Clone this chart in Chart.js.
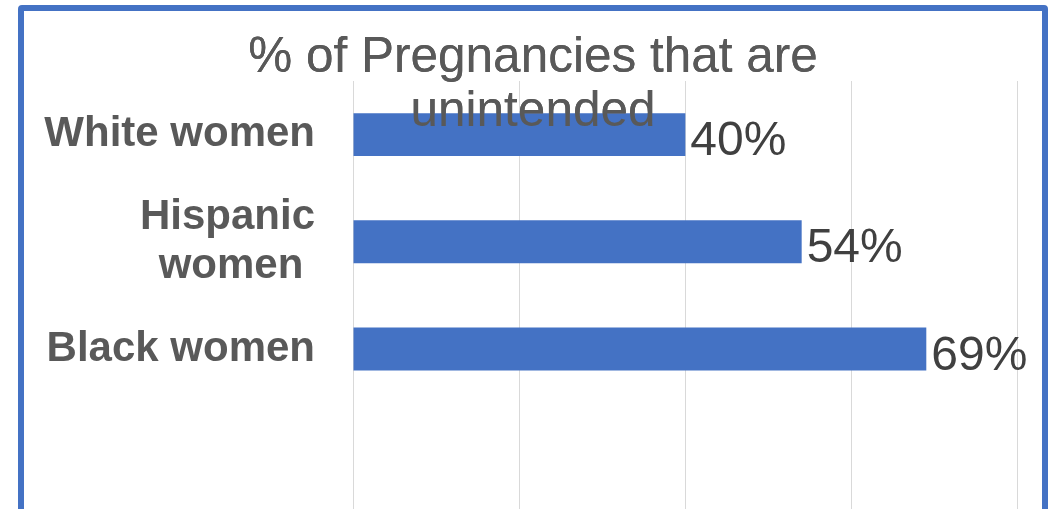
<!DOCTYPE html>
<html>
<head>
<meta charset="utf-8">
<script src="https://cdn.jsdelivr.net/npm/chart.js@4"></script>
<style>
  html, body { margin: 0; padding: 0; background: #fff; overflow: hidden; }
  #wrap { position: relative; width: 1053px; height: 509px; overflow: hidden; }
  #chart { position: absolute; left: 0; top: 0; }
  #frame {
    position: absolute; left: 18px; top: 5px; width: 1030px; height: 510px;
    box-sizing: border-box; border: 6px solid #4472C4; border-radius: 4px;
    pointer-events: none;
  }
</style>
</head>
<body>
<div id="wrap">
  <canvas id="chart" width="1066" height="572"></canvas>
  <div id="frame"></div>
</div>
<script>
// Chart data
const titleLines = ['% of Pregnancies that are', 'unintended'];
const categories = ['White women', ['Hispanic', 'women '], 'Black women', ''];
const values = [40, 54, 69, null];
const xTicks = [0, 20, 40, 60, 80];

const FONT = "'Liberation Sans', Arial, sans-serif";

// value labels next to the bars, then the title again so it sits on top of the bars
const barLabels = {
    id: 'barLabels',
    afterDatasetsDraw(chart) {
        const ctx = chart.ctx;
        const meta = chart.getDatasetMeta(0);
        ctx.save();
        ctx.font = '48px ' + FONT;
        ctx.fillStyle = '#404040';
        ctx.textAlign = 'left';
        ctx.textBaseline = 'alphabetic';
        meta.data.forEach((bar, i) => {
            const v = values[i];
            if (v === null || v === undefined) return;
            ctx.fillText(v + '%', bar.x + 5, bar.y + 20.5);
        });
        ctx.restore();
        if (chart.titleBlock) chart.titleBlock.draw(chart.chartArea);
    }
};

const ctx = document.getElementById('chart').getContext('2d');
new Chart(ctx, {
    type: 'bar',
    data: {
        labels: categories,
        datasets: [{
            data: values,
            backgroundColor: '#4472C4',
            borderWidth: 0,
            categoryPercentage: 0.4,
            barPercentage: 1
        }]
    },
    options: {
        indexAxis: 'y',
        responsive: false,
        animation: false,
        layout: { padding: 0 },
        plugins: {
            legend: { display: false },
            tooltip: { enabled: false },
            title: {
                display: true,
                text: titleLines,
                color: '#595959',
                font: { family: FONT, size: 49.5, weight: 'normal', lineHeight: 1.111 },
                padding: { top: 30.35, bottom: -59.35 }
            }
        },
        scales: {
            x: {
                min: xTicks[0],
                max: xTicks[xTicks.length - 1],
                afterBuildTicks: s => { s.ticks = xTicks.map(v => ({ value: v })); },
                ticks: { display: false },
                grid: { color: '#D9D9D9', lineWidth: 1, drawTicks: false },
                border: { display: false },
                afterFit: s => { s.height = 0; }
            },
            y: {
                grid: { display: false, drawTicks: false },
                border: { display: false },
                ticks: {
                    autoSkip: false,
                    padding: 38,
                    color: '#595959',
                    font: { family: FONT, size: 42, weight: 'bold', lineHeight: 1.15 }
                },
                afterFit: s => { s.width = 353; }
            },
            // empty space on the right of the plot, so the title centres like the original
            yRight: {
                type: 'category',
                position: 'right',
                grid: { display: false, drawTicks: false },
                border: { display: false },
                ticks: { display: false },
                afterFit: s => { s.width = 48.3; }
            }
        }
    },
    plugins: [barLabels]
});
</script>
</body>
</html>
